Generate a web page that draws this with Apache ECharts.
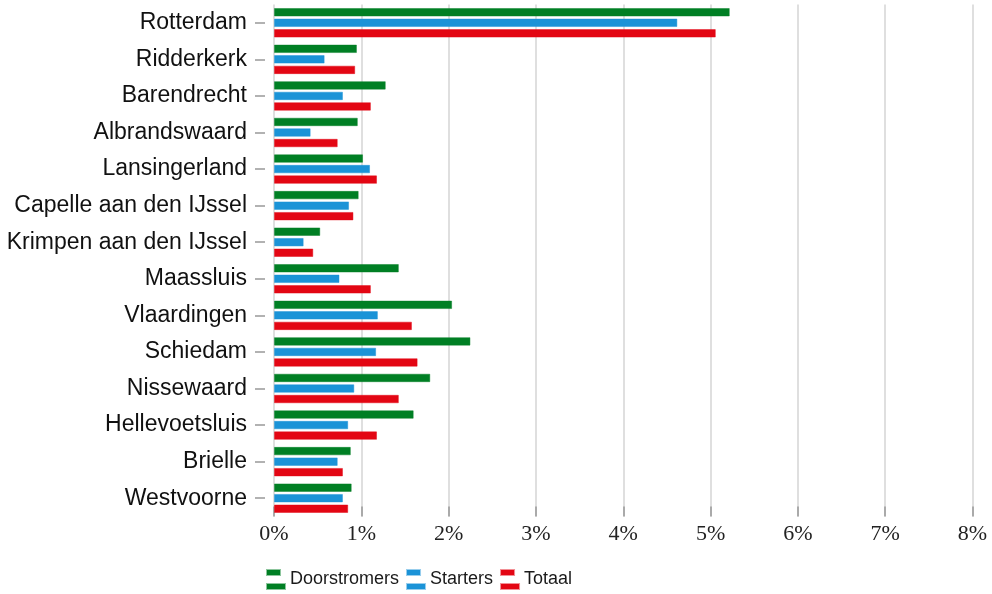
<!DOCTYPE html>
<html>
<head>
<meta charset="utf-8">
<script src="https://cdn.jsdelivr.net/npm/echarts@6/dist/echarts.min.js"></script>
<style>
  html, body { margin: 0; padding: 0; background: #ffffff; }
  #chart { width: 992px; height: 594px; }
</style>
</head>
<body>
<div id="chart"></div>
<script>
// Municipalities, top to bottom
const gemeenten = [
  'Rotterdam', 'Ridderkerk', 'Barendrecht', 'Albrandswaard', 'Lansingerland',
  'Capelle aan den IJssel', 'Krimpen aan den IJssel', 'Maassluis', 'Vlaardingen',
  'Schiedam', 'Nissewaard', 'Hellevoetsluis', 'Brielle', 'Westvoorne'
];

// Percentages per group
const doorstromers = [5.22, 0.95, 1.28, 0.96, 1.02, 0.97, 0.53, 1.43, 2.04, 2.25, 1.79, 1.60, 0.88, 0.89];
const starters     = [4.62, 0.58, 0.79, 0.42, 1.10, 0.86, 0.34, 0.75, 1.19, 1.17, 0.92, 0.85, 0.73, 0.79];
const totaal       = [5.06, 0.93, 1.11, 0.73, 1.18, 0.91, 0.45, 1.11, 1.58, 1.645, 1.43, 1.18, 0.79, 0.85];

// X axis range
const xMin = 0, xMax = 8, xStep = 1;

const seriesNames = ['Doorstromers', 'Starters', 'Totaal'];
const seriesData = [doorstromers, starters, totaal];
const colors = ['#007f24', '#1b93d7', '#e30613'];
const borders = ['rgba(0,127,36,0.45)', 'rgba(27,147,215,0.45)', 'rgba(227,6,19,0.45)'];

// Legend marker: short stripe above a long stripe
const legendIcon = 'path://M0,0H13V5H0Z M0,14H18V19H0Z';

const chart = echarts.init(document.getElementById('chart'), null, { renderer: 'canvas' });

chart.setOption({
  animation: false,
  color: colors,
  grid: { left: 274, top: 4.5, width: 698.5, height: 512, containLabel: false },
  legend: {
    left: 261,
    top: 564,
    itemWidth: 18,
    itemHeight: 19,
    itemGap: 7,
    icon: legendIcon,
    textStyle: { fontFamily: 'Liberation Sans, Arial, sans-serif', fontSize: 18, color: '#1a1a1a' },
    data: seriesNames
  },
  xAxis: {
    type: 'value',
    min: xMin,
    max: xMax,
    interval: xStep,
    axisLine: { show: false },
    axisTick: { show: true, inside: true, length: 10, lineStyle: { color: '#999', width: 1.5 } },
    splitLine: { show: true, lineStyle: { color: '#d4d4d4', width: 1.5 } },
    axisLabel: {
      margin: 7,
      formatter: '{value}%',
      fontFamily: 'Liberation Serif, Times New Roman, serif',
      fontSize: 22,
      color: '#222'
    }
  },
  yAxis: {
    type: 'category',
    inverse: true,
    data: gemeenten,
    offset: 9,
    axisLine: { show: false, onZero: false },
    axisTick: { show: true, alignWithLabel: true, length: 10, lineStyle: { color: '#999', width: 1.5 } },
    axisLabel: {
      margin: 18,
      fontFamily: 'Liberation Sans, Arial, sans-serif',
      fontSize: 23,
      color: '#111'
    }
  },
  series: seriesNames.map((name, i) => ({
    name: name,
    type: 'bar',
    data: seriesData[i],
    barWidth: 8.5,
    barGap: '24%',
    itemStyle: { color: colors[i], borderColor: borders[i], borderWidth: 1 }
  }))
});
</script>
</body>
</html>
